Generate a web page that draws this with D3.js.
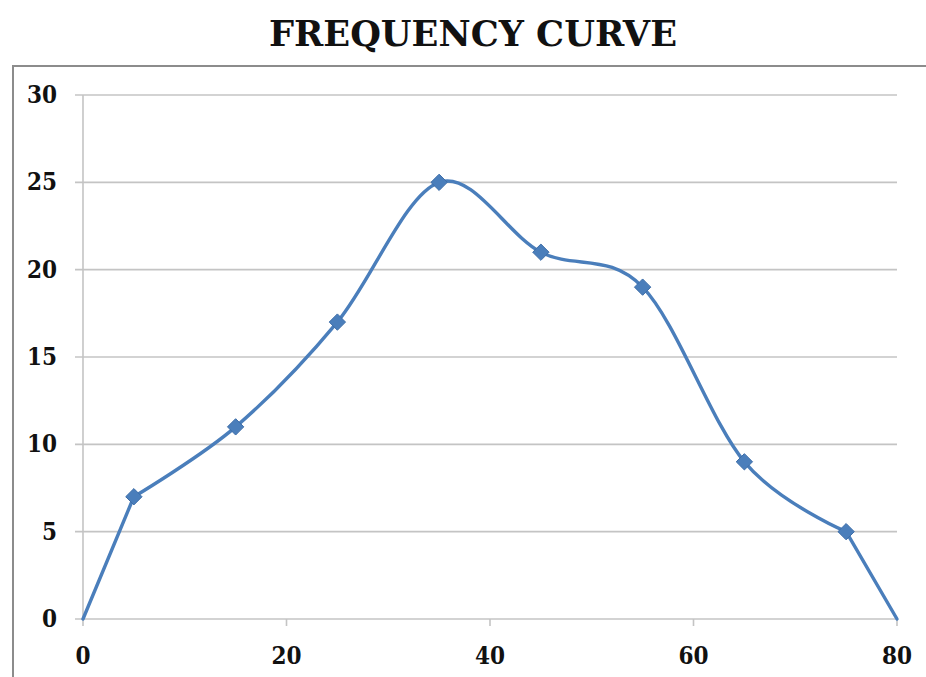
<!DOCTYPE html>
<html>
<head>
<meta charset="utf-8">
<script src="https://cdn.jsdelivr.net/npm/d3@7"></script>
<style>
  html, body { margin: 0; padding: 0; background: #fff; }
  svg { display: block; }
  .lbl { font-family: "DejaVu Serif Condensed", "DejaVu Serif", serif; font-stretch: condensed; font-weight: bold; fill: #111; }
</style>
</head>
<body>
<script>
const title = "FREQUENCY CURVE";
// class mid-points and frequencies (marked points)
const midX = [5, 15, 25, 35, 45, 55, 65, 75];
const freqY = [7, 11, 17, 25, 21, 19, 9, 5];
// curve closed to the axis at both ends
const startX = [0, 5], startY = [0, 7];
const endX = [75, 80], endY = [5, 0];
const xTicks = [0, 20, 40, 60, 80];
const yTicks = [0, 5, 10, 15, 20, 25, 30];

const W = 926, H = 677;
const svg = d3.select("body").append("svg").attr("width", W).attr("height", H);

svg.append("path")
  .attr("d", `M13,${H + 2}V66H${W + 2}`)
  .attr("fill", "none").attr("stroke", "#8c8c8c").attr("stroke-width", 2);

svg.append("text").attr("class", "lbl")
  .attr("x", 473).attr("y", 46).attr("text-anchor", "middle")
  .attr("font-size", 36)
  .attr("textLength", 408).attr("lengthAdjust", "spacingAndGlyphs")
  .text(title);

const x = d3.scaleLinear().domain([0, 80]).range([83, 897]);
const y = d3.scaleLinear().domain([0, 30]).range([619, 95]);

svg.append("g").selectAll("line").data(yTicks).join("line")
  .attr("x1", x(0) - 8).attr("x2", x(80))
  .attr("y1", d => y(d)).attr("y2", d => y(d))
  .attr("stroke", "#c4c4c4").attr("stroke-width", 1.6);

svg.append("line").attr("x1", x(0)).attr("x2", x(0)).attr("y1", y(30)).attr("y2", y(0))
  .attr("stroke", "#c4c4c4").attr("stroke-width", 1.6);

svg.append("g").selectAll("line").data(xTicks).join("line")
  .attr("x1", d => x(d)).attr("x2", d => x(d))
  .attr("y1", y(0)).attr("y2", y(0) + 7)
  .attr("stroke", "#c4c4c4").attr("stroke-width", 1.6);

svg.append("g").selectAll("text").data(yTicks).join("text").attr("class", "lbl")
  .attr("x", 57).attr("y", d => y(d) + 8).attr("text-anchor", "end")
  .attr("font-size", 24).text(d => d);

svg.append("g").selectAll("text").data(xTicks).join("text").attr("class", "lbl")
  .attr("x", d => x(d)).attr("y", 664).attr("text-anchor", "middle")
  .attr("font-size", 24).text(d => d);

const stroke = "#4a7ebb";
const smooth = d3.line().x(d => x(d[0])).y(d => y(d[1])).curve(d3.curveCardinal.tension(0));
const straight = d3.line().x(d => x(d[0])).y(d => y(d[1]));

const pts = midX.map((v, i) => [v, freqY[i]]);
const startPts = startX.map((v, i) => [v, startY[i]]);
const endPts = endX.map((v, i) => [v, endY[i]]);

[[startPts, straight], [pts, smooth], [endPts, straight]].forEach(([data, gen]) => {
  svg.append("path").datum(data).attr("d", gen)
    .attr("fill", "none").attr("stroke", stroke).attr("stroke-width", 3.4)
    .attr("stroke-linejoin", "round").attr("stroke-linecap", "round");
});

const diamond = d3.symbol().type(d3.symbolDiamond2).size(170);
svg.append("g").selectAll("path").data(pts).join("path")
  .attr("transform", d => `translate(${x(d[0])},${y(d[1])})`)
  .attr("d", diamond)
  .attr("fill", stroke).attr("stroke", "#3d6da8").attr("stroke-width", 1);
</script>
</body>
</html>
